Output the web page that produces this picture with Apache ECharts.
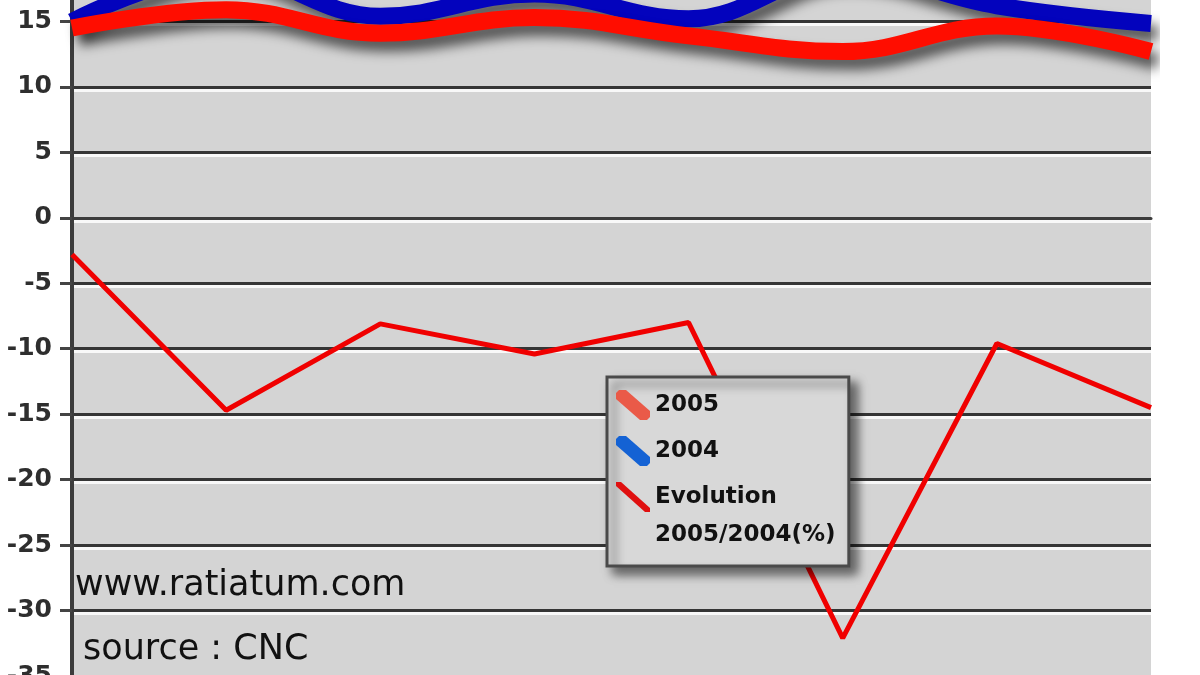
<!DOCTYPE html>
<html>
<head>
<meta charset="utf-8">
<script src="https://cdn.jsdelivr.net/npm/echarts@6/dist/echarts.min.js"></script>
<style>
  html, body { margin: 0; padding: 0; background: #ffffff; overflow: hidden; width: 1200px; height: 675px; }
  #chart { position: absolute; left: 0; top: -100px; width: 1200px; height: 875px; }
</style>
</head>
<body>
<div id="chart"></div>
<script>
// ---- data ----
const categories = ['janvier', 'février', 'mars', 'avril', 'mai', 'juin', 'juillet', 'août'];
const seriesNames = ['2005', '2004', 'Evolution 2005/2004(%)'];
const values2005 = [14.5, 15.9, 14.1, 15.3, 13.9, 12.7, 14.65, 12.7];
const values2004 = [15.0, 18.65, 15.4, 17.1, 15.2, 18.7, 16.2, 14.85];
const valuesEvolution = [-2.8, -14.7, -8.1, -10.4, -8.0, -32.1, -9.6, -14.5];
const yTicks = { min: -35, max: 20, interval: 5 };
const watermark = ['www.ratiatum.com', 'source : CNC'];

const chart = echarts.init(document.getElementById('chart'), null, { renderer: 'canvas' });

const bandIcon = 'path://M3,0 L10,0 L34,21 L34,27 L31,30 L24,30 L0,9 L0,3 Z';
const thinIcon = 'path://M0,0 L5,0 L34,26 L34,30 L29,30 L0,4 Z';
const evoParts = seriesNames[2].split(' ');

const option = {
  animation: false,
  backgroundColor: '#ffffff',
  grid: {
    left: 72, right: 49, top: 56, bottom: 99,
    show: true, backgroundColor: '#d4d4d4', borderWidth: 0
  },
  xAxis: {
    type: 'category',
    data: categories,
    boundaryGap: false,
    axisLine: { show: true, lineStyle: { color: '#3c3c3c', width: 3 } },
    axisTick: { show: false },
    axisLabel: { color: '#333', fontSize: 20, fontFamily: 'DejaVu Sans' },
    splitLine: { show: false }
  },
  yAxis: {
    type: 'value',
    min: yTicks.min, max: yTicks.max, interval: yTicks.interval,
    axisLine: { show: true, lineStyle: { color: '#3c3c3c', width: 4 } },
    axisTick: { show: true, length: 12, lineStyle: { color: '#444', width: 3 } },
    axisLabel: {
      margin: 20, color: '#2e2e2e', fontSize: 25, fontWeight: 'bold',
      fontFamily: 'DejaVu Sans'
    },
    splitLine: {
      show: true,
      lineStyle: {
        color: '#353535', width: 3,
        shadowColor: 'rgba(250,250,250,0.95)', shadowOffsetY: 3, shadowBlur: 0
      }
    }
  },
  legend: {
    orient: 'vertical',
    left: 607, top: 477,
    padding: [9, 72, 50, 9],
    itemGap: 8,
    itemWidth: 34, itemHeight: 30,
    backgroundColor: '#d8d8d8',
    borderColor: '#4a4a4a', borderWidth: 3,
    shadowColor: 'rgba(0,0,0,0.55)', shadowBlur: 10, shadowOffsetX: 7, shadowOffsetY: 7,
    selectedMode: false,
    formatter: function (name) { return name.split(' ')[0]; },
    textStyle: {
      fontFamily: 'DejaVu Sans', fontWeight: 'bold', fontSize: 23,
      color: '#111', lineHeight: 38
    },
    data: [
      { name: seriesNames[0], icon: bandIcon, itemStyle: { color: '#ea5a48', borderWidth: 0 } },
      { name: seriesNames[1], icon: bandIcon, itemStyle: { color: '#1462d4', borderWidth: 0 } },
      { name: seriesNames[2], icon: thinIcon, itemStyle: { color: '#e01010', borderWidth: 0 } }
    ]
  },
  graphic: [
    {
      type: 'text', x: 655, y: 635, z: 100,
      style: {
        text: evoParts.slice(1).join(' '), fill: '#111',
        font: 'bold 23px "DejaVu Sans"', verticalAlign: 'middle', align: 'left'
      }
    },
    {
      type: 'text', x: 75, y: 686, z: 100,
      style: {
        text: watermark[0], fill: '#111',
        font: '35px "DejaVu Sans"', verticalAlign: 'middle', align: 'left'
      }
    },
    {
      type: 'text', x: 83, y: 750, z: 100,
      style: {
        text: watermark[1], fill: '#111',
        font: '35px "DejaVu Sans"', verticalAlign: 'middle', align: 'left'
      }
    }
  ],
  series: [
    {
      name: seriesNames[1], type: 'line', data: values2004,
      smooth: 0.4, showSymbol: false, clip: false, z: 3,
      lineStyle: {
        color: '#0303bd', width: 17,
        shadowColor: 'rgba(0,0,0,0.6)', shadowBlur: 12, shadowOffsetX: 7, shadowOffsetY: 10
      },
      itemStyle: { color: '#0303bd' }
    },
    {
      name: seriesNames[0], type: 'line', data: values2005,
      smooth: 0.4, showSymbol: false, clip: false, z: 4,
      lineStyle: {
        color: '#ff0d00', width: 17,
        shadowColor: 'rgba(0,0,0,0.6)', shadowBlur: 12, shadowOffsetX: 7, shadowOffsetY: 10
      },
      itemStyle: { color: '#ff0d00' }
    },
    {
      name: seriesNames[2], type: 'line', data: valuesEvolution,
      smooth: false, showSymbol: false, clip: false, z: 3,
      lineStyle: { color: '#f00000', width: 5 },
      itemStyle: { color: '#f00000' }
    }
  ]
};

chart.setOption(option);
</script>
</body>
</html>
